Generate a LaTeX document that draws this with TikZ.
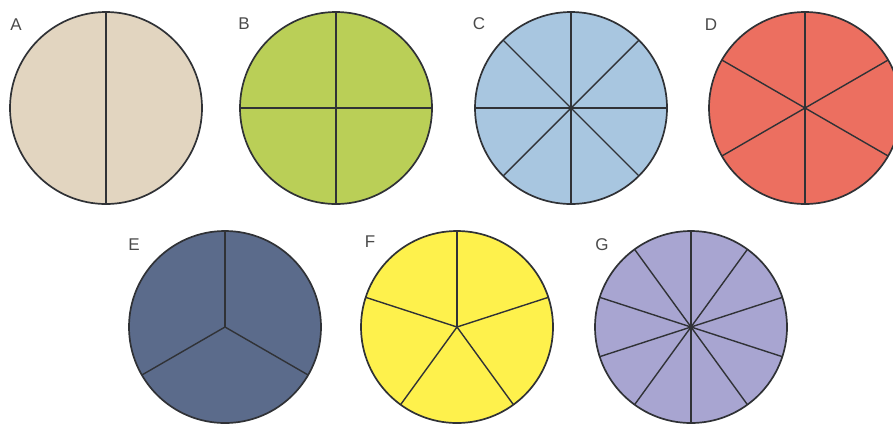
\documentclass[tikz,border=0pt]{standalone}
\usepackage{fontspec}
\setmainfont{Liberation Sans}
\usepackage{xcolor}
\usepackage{tikz}
\usetikzlibrary{positioning}
\definecolor{outline}{HTML}{303236}
\definecolor{labelgray}{HTML}{4A4A4A}
\definecolor{pieA}{HTML}{E2D5C0}
\definecolor{pieB}{HTML}{BACF57}
\definecolor{pieC}{HTML}{A8C6E0}
\definecolor{pieD}{HTML}{EC6F60}
\definecolor{pieE}{HTML}{5B6B8B}
\definecolor{pieF}{HTML}{FEF14C}
\definecolor{pieG}{HTML}{A8A5D1}
\tikzset{
  pie/.style={circle, draw=outline, line width=1.7pt, minimum size=192pt, inner sep=0pt, outer sep=0pt},
  spoke/.style={draw=outline, line width=1.4pt},
  letter/.style={text=labelgray, font=\fontsize{17}{17}\selectfont, inner sep=0pt}
}

\begin{document}
\begin{tikzpicture}[x=1pt, y=-1pt]
    \useasboundingbox (0,0) rectangle (893,424);
    % top row
    \node[pie, fill=pieA] (pa) at (106,108) {};
    \node[pie, fill=pieB] (pb) at (336,108) {};
    \node[pie, fill=pieC] (pc) at (571,108) {};
    \node[pie, fill=pieD] (pd) at (805,108) {};
    % bottom row
    \node[pie, fill=pieE] (pe) at (225,327) {};
    \node[pie, fill=pieF] (pf) at (457,327) {};
    \node[pie, fill=pieG] (pg) at (691,327) {};
    % spokes
    \foreach \a in {90,270} \draw[spoke] (pa.center) -- (pa.\a);
    \foreach \a in {0,90,...,270} \draw[spoke] (pb.center) -- (pb.\a);
    \foreach \a in {0,45,...,315} \draw[spoke] (pc.center) -- (pc.\a);
    \foreach \a in {30,90,...,330} \draw[spoke] (pd.center) -- (pd.\a);
    \foreach \a in {90,210,330} \draw[spoke] (pe.center) -- (pe.\a);
    \foreach \a in {18,90,...,306} \draw[spoke] (pf.center) -- (pf.\a);
    \foreach \a in {18,54,...,342} \draw[spoke] (pg.center) -- (pg.\a);
    % letters
    \node[letter] (la) at (16,25) {A};
    \node[letter] (lb) at (244,24) {B};
    \node[letter] (lc) at (479,24) {C};
    \node[letter] (ld) at (711,25) {D};
    \node[letter] (le) at (134,245) {E};
    \node[letter] (lf) at (370,242) {F};
    \node[letter] (lg) at (602,245) {G};
\end{tikzpicture}
\end{document}
